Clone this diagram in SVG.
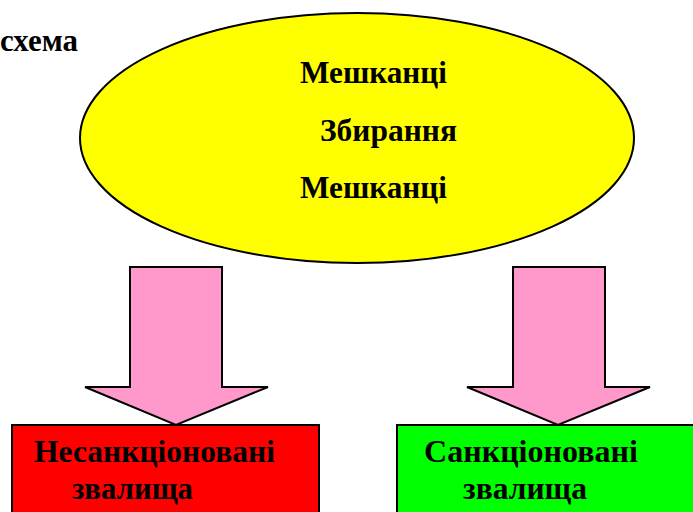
<svg xmlns="http://www.w3.org/2000/svg" width="693" height="512" viewBox="0 0 693 512">
  <style>
    .lbl { font-family: "Liberation Serif", "Times New Roman", serif; font-weight: bold; font-size: 31px; fill: #000; }
    .arrow { fill: #FF99CC; stroke: #000; stroke-width: 2; stroke-linejoin: miter; }
    .box { stroke: #000; stroke-width: 2; }
  </style>
  <rect width="693" height="512" fill="#fff"/>

  <text class="lbl" x="0" y="51" textLength="78" lengthAdjust="spacingAndGlyphs" style="font-size:32px">схема</text>

  <g id="source">
    <ellipse cx="357" cy="138" rx="277" ry="125" fill="#FFFF00" stroke="#000" stroke-width="2"/>
    <text class="lbl" x="300" y="83" textLength="147" lengthAdjust="spacingAndGlyphs">Мешканці</text>
    <text class="lbl" x="320" y="141" textLength="137" lengthAdjust="spacingAndGlyphs">Збирання</text>
    <text class="lbl" x="300" y="198" textLength="147" lengthAdjust="spacingAndGlyphs">Мешканці</text>
  </g>

  <g id="connectors">
    <path class="arrow" d="M130,267 H222 V387 H268 L176,425 L85,387 H130 Z"/>
    <path class="arrow" d="M513,267 H605 V387 H650 L558,425 L467,387 H513 Z"/>
  </g>

  <g id="unsanctioned">
    <rect class="box" x="12" y="425" width="307" height="100" fill="#FF0000"/>
    <text class="lbl" x="34" y="462" textLength="241" lengthAdjust="spacingAndGlyphs">Несанкціоновані</text>
    <text class="lbl" x="72" y="499" textLength="121" lengthAdjust="spacingAndGlyphs">звалища</text>
  </g>

  <g id="sanctioned">
    <rect class="box" x="397" y="425" width="310" height="100" fill="#00FF00"/>
    <text class="lbl" x="424" y="462" textLength="214" lengthAdjust="spacingAndGlyphs">Санкціоновані</text>
    <text class="lbl" x="463" y="499" textLength="124" lengthAdjust="spacingAndGlyphs">звалища</text>
  </g>
</svg>
